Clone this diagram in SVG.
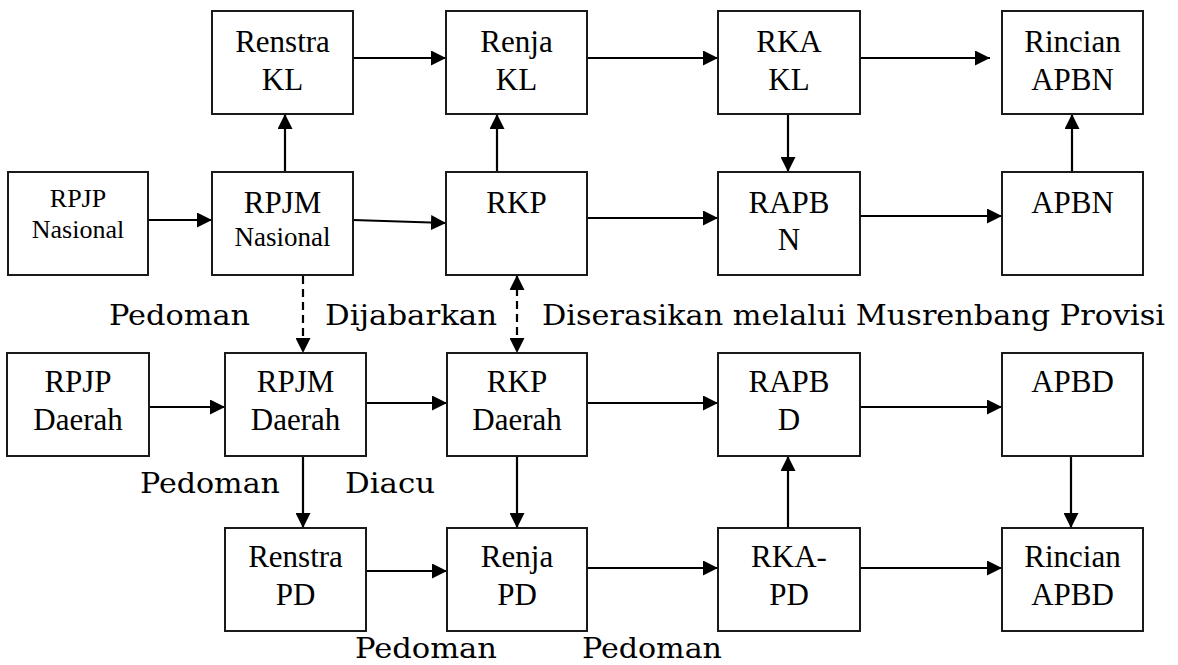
<svg xmlns="http://www.w3.org/2000/svg" width="1178" height="665" viewBox="0 0 1178 665">
<style>
  .box { fill: #fff; stroke: #1a1a1a; stroke-width: 2; }
  .t { font-family: "Liberation Serif", "Times New Roman", serif; font-size: 31px; fill: #000; text-anchor: middle; }
  .ts { font-size: 26px; }
  .tm { font-size: 27px; }
  .lbl { font-family: "DejaVu Serif", "Liberation Serif", serif; font-size: 28px; fill: #000; }
  .c { fill: none; stroke: #000; stroke-width: 2.2; marker-end: url(#ah); }
  .d { fill: none; stroke: #000; stroke-width: 2.2; stroke-dasharray: 8 5; marker-end: url(#ah); }
</style>
<defs>
  <marker id="ah" markerUnits="userSpaceOnUse" markerWidth="15" markerHeight="15" refX="15" refY="7.5" orient="auto-start-reverse">
    <path d="M0,0 L15,7.5 L0,15 Z" fill="#000"/>
  </marker>
</defs>
<rect width="1178" height="665" fill="#fff"/>

<g id="connectors">
  <path class="c" d="M353,58 H446"/>
  <path class="c" d="M587,58 H718"/>
  <path class="c" d="M860,58 H990"/>
  <path class="c" d="M148,220 H212"/>
  <path class="c" d="M285,172 V114"/>
  <path class="c" d="M353,220 L446,223"/>
  <path class="c" d="M497,172 V114"/>
  <path class="c" d="M587,218 H718"/>
  <path class="c" d="M788,114 V172"/>
  <path class="c" d="M860,216 H1002"/>
  <path class="c" d="M1072,172 V114"/>
  <path class="d" d="M303,276 V353"/>
  <path class="d" d="M517,275 V353" style="marker-start:url(#ah)"/>
  <path class="c" d="M149,407 H225"/>
  <path class="c" d="M366,403 H447"/>
  <path class="c" d="M303,456 V528"/>
  <path class="c" d="M587,403 H718"/>
  <path class="c" d="M517,456 V528"/>
  <path class="c" d="M788,528 V456"/>
  <path class="c" d="M860,407 H1002"/>
  <path class="c" d="M1071,456 V528"/>
  <path class="c" d="M366,571 H447"/>
  <path class="c" d="M587,568 H718"/>
  <path class="c" d="M860,568 H1002"/>
</g>

<g id="labels">
  <text class="lbl" x="109" y="325" textLength="141" lengthAdjust="spacingAndGlyphs">Pedoman</text>
  <text class="lbl" x="325" y="325" textLength="172" lengthAdjust="spacingAndGlyphs">Dijabarkan</text>
  <text class="lbl" x="542" y="325" textLength="623" lengthAdjust="spacingAndGlyphs">Diserasikan melalui Musrenbang Provisi</text>
  <text class="lbl" x="140" y="493" textLength="140" lengthAdjust="spacingAndGlyphs">Pedoman</text>
  <text class="lbl" x="345" y="493" textLength="90" lengthAdjust="spacingAndGlyphs">Diacu</text>
  <text class="lbl" x="355" y="658" textLength="142" lengthAdjust="spacingAndGlyphs">Pedoman</text>
  <text class="lbl" x="582" y="658" textLength="140" lengthAdjust="spacingAndGlyphs">Pedoman</text>
</g>

<g id="renstra-kl"><rect class="box" x="212" y="11" width="141" height="103"/><text class="t" x="282.5" y="52">Renstra</text><text class="t" x="282.5" y="90">KL</text></g>
<g id="renja-kl"><rect class="box" x="446" y="11" width="141" height="103"/><text class="t" x="516.5" y="52">Renja</text><text class="t" x="516.5" y="90">KL</text></g>
<g id="rka-kl"><rect class="box" x="718" y="11" width="142" height="103"/><text class="t" x="789" y="52">RKA</text><text class="t" x="789" y="90">KL</text></g>
<g id="rincian-apbn"><rect class="box" x="1002" y="11" width="141" height="103"/><text class="t" x="1072.5" y="52">Rincian</text><text class="t" x="1072.5" y="90">APBN</text></g>

<g id="rpjp-nasional"><rect class="box" x="8" y="172" width="140" height="103"/><text class="t ts" x="78" y="207">RPJP</text><text class="t ts" x="78" y="238">Nasional</text></g>
<g id="rpjm-nasional"><rect class="box" x="212" y="172" width="141" height="103"/><text class="t" x="282.5" y="213">RPJM</text><text class="t tm" x="282.5" y="246">Nasional</text></g>
<g id="rkp"><rect class="box" x="446" y="172" width="141" height="103"/><text class="t" x="516.5" y="213">RKP</text></g>
<g id="rapbn"><rect class="box" x="718" y="172" width="142" height="103"/><text class="t" x="789" y="213">RAPB</text><text class="t" x="789" y="250">N</text></g>
<g id="apbn"><rect class="box" x="1002" y="172" width="141" height="103"/><text class="t" x="1072.5" y="213">APBN</text></g>

<g id="rpjp-daerah"><rect class="box" x="7" y="353" width="142" height="103"/><text class="t" x="78" y="392">RPJP</text><text class="t" x="78" y="430">Daerah</text></g>
<g id="rpjm-daerah"><rect class="box" x="225" y="353" width="141" height="103"/><text class="t" x="295.5" y="392">RPJM</text><text class="t" x="295.5" y="430">Daerah</text></g>
<g id="rkp-daerah"><rect class="box" x="447" y="353" width="140" height="103"/><text class="t" x="517" y="392">RKP</text><text class="t" x="517" y="430">Daerah</text></g>
<g id="rapbd"><rect class="box" x="718" y="353" width="142" height="103"/><text class="t" x="789" y="392">RAPB</text><text class="t" x="789" y="430">D</text></g>
<g id="apbd"><rect class="box" x="1002" y="353" width="141" height="103"/><text class="t" x="1072.5" y="392">APBD</text></g>

<g id="renstra-pd"><rect class="box" x="225" y="528" width="141" height="103"/><text class="t" x="295.5" y="567">Renstra</text><text class="t" x="295.5" y="605">PD</text></g>
<g id="renja-pd"><rect class="box" x="447" y="528" width="140" height="103"/><text class="t" x="517" y="567">Renja</text><text class="t" x="517" y="605">PD</text></g>
<g id="rka-pd"><rect class="box" x="718" y="528" width="142" height="103"/><text class="t" x="789" y="567">RKA-</text><text class="t" x="789" y="605">PD</text></g>
<g id="rincian-apbd"><rect class="box" x="1002" y="528" width="141" height="103"/><text class="t" x="1072.5" y="567">Rincian</text><text class="t" x="1072.5" y="605">APBD</text></g>
</svg>
